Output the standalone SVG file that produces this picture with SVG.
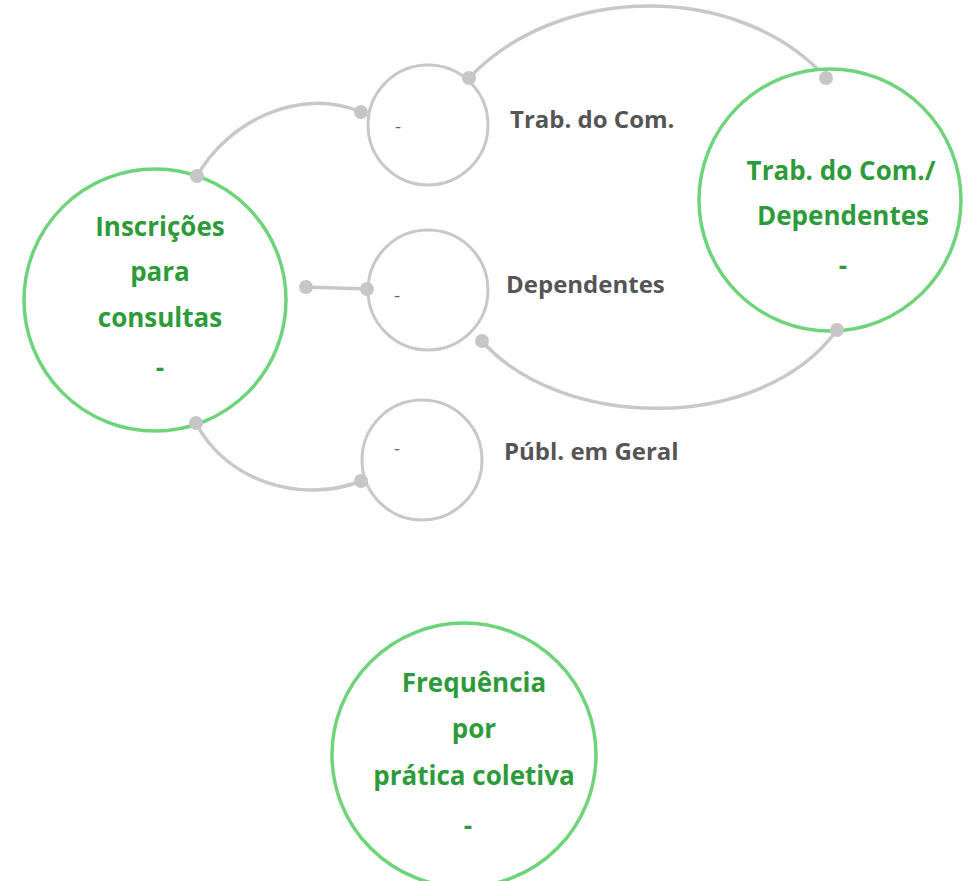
<svg xmlns="http://www.w3.org/2000/svg" width="973" height="881" viewBox="0 0 973 881">
<style>
.big{fill:#fff;stroke:#6dd47a;stroke-width:3.5}
.small{fill:#fff;stroke:#c8c8c8;stroke-width:3}
.conn{fill:none;stroke:#c8c8c8;stroke-width:3.5}
.dot{fill:#c6c6c6}
.gt{font-family:"Open Sans","Liberation Sans",sans-serif;font-weight:700;font-size:26px;fill:#2e9b3a;text-anchor:middle}
.lbl{font-family:"Open Sans","Liberation Sans",sans-serif;font-weight:700;font-size:24px;fill:#555}
.sd{font-family:"Open Sans","Liberation Sans",sans-serif;font-size:19px;fill:#666;text-anchor:middle}
</style>
<rect width="973" height="881" fill="#fff"/>
<g id="connectors">
<path class="conn" d="M197,176 C228,122 298,86 361,112"/>
<path class="conn" d="M306,287 L367,289"/>
<path class="conn" d="M196,423 C225,480 300,505 361,481"/>
<path class="conn" d="M469,78 C560,-18 740,-18 826,78"/>
<path class="conn" d="M482,341 C560,430 760,435 837,330"/>
</g>
<g id="node-inscricoes">
<circle class="big" cx="155" cy="300" r="131"/>
<text class="gt" x="160" y="236">Inscrições</text>
<text class="gt" x="160" y="281">para</text>
<text class="gt" x="160" y="327">consultas</text>
<text class="gt" x="160" y="377">-</text>
</g>
<g id="node-trab">
<circle class="small" cx="428" cy="125" r="60"/>
<text class="sd" x="398" y="133">-</text>
<text class="lbl" x="510" y="128">Trab. do Com.</text>
</g>
<g id="node-dependentes">
<circle class="small" cx="428" cy="290" r="60"/>
<text class="sd" x="397" y="302">-</text>
<text class="lbl" x="506" y="293">Dependentes</text>
</g>
<g id="node-publico">
<circle class="small" cx="422" cy="460" r="60"/>
<text class="sd" x="397" y="455">-</text>
<text class="lbl" x="504" y="460">Públ. em Geral</text>
</g>
<g id="node-trab-dep">
<circle class="big" cx="830" cy="200" r="131"/>
<text class="gt" x="841" y="180">Trab. do Com./</text>
<text class="gt" x="843" y="225">Dependentes</text>
<text class="gt" x="843" y="275">-</text>
</g>
<g id="node-frequencia">
<circle class="big" cx="464" cy="755" r="132"/>
<text class="gt" x="474" y="692">Frequência</text>
<text class="gt" x="474" y="738">por</text>
<text class="gt" x="474" y="785">prática coletiva</text>
<text class="gt" x="468" y="835">-</text>
</g>
<g id="dots">
<circle class="dot" cx="197" cy="176" r="7"/>
<circle class="dot" cx="361" cy="112" r="7"/>
<circle class="dot" cx="306" cy="287" r="7"/>
<circle class="dot" cx="367" cy="289" r="7"/>
<circle class="dot" cx="196" cy="423" r="7"/>
<circle class="dot" cx="361" cy="481" r="7"/>
<circle class="dot" cx="469" cy="78" r="7"/>
<circle class="dot" cx="826" cy="78" r="7"/>
<circle class="dot" cx="482" cy="341" r="7"/>
<circle class="dot" cx="837" cy="330" r="7"/>
</g>
</svg>
